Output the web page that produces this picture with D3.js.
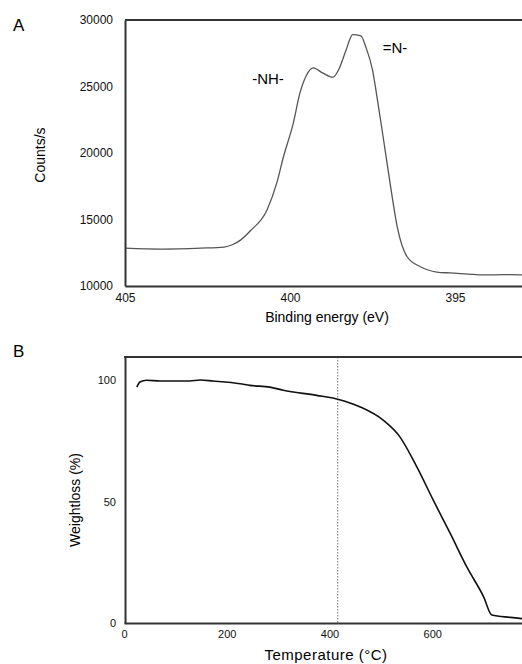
<!DOCTYPE html>
<html>
<head>
<meta charset="utf-8">
<script src="https://cdn.jsdelivr.net/npm/d3@7"></script>
<style>
  body { margin: 0; background: #fff; }
  svg { font-family: "Liberation Sans", Arial, sans-serif; display: block; }
  .tick text { fill: #111; }
</style>
</head>
<body>
<div id="chart"></div>
<script>
// Panel A: XPS N1s spectrum
const xpsEnergy = [405, 403.9, 402.7, 402.0, 401.75, 401.5, 401.2, 400.7, 400.4, 400.2, 399.9, 399.7, 399.5, 399.3, 399.0, 398.7, 398.5, 398.3, 398.1, 397.85, 397.7, 397.5, 397.35, 397.15, 396.95, 396.75, 396.45, 396.05, 395.55, 395.15, 394.6, 394.15, 393.5, 392.6];
const xpsCounts = [12850, 12780, 12850, 12930, 13100, 13450, 14150, 15700, 17750, 19700, 22250, 24500, 25850, 26400, 26000, 25700, 26400, 27750, 28900, 28800, 27950, 26250, 24000, 20750, 17450, 14450, 12200, 11450, 11050, 10980, 10900, 10830, 10850, 10820];
const xpsTicksX = [405, 400, 395];
const xpsTicksY = [10000, 15000, 20000, 25000, 30000];

// Panel B: TGA curve
const tgaTemp = [25, 31, 44, 70, 128, 148, 173, 226, 245, 284, 310, 375, 416, 460, 505, 537, 570, 602, 635, 667, 700, 716, 752, 790];
const tgaWeight = [97.2, 99.3, 100, 99.7, 99.7, 100.1, 99.7, 98.6, 97.9, 97.2, 95.9, 93.8, 92.2, 89.0, 83.5, 76.7, 64.3, 50.6, 36.9, 23.2, 10.8, 3.3, 2.3, 1.5];
const tgaTicksX = [0, 200, 400, 600, 800];
const tgaTicksY = [0, 50, 100];
const tgaMarker = 416;

const svg = d3.select("#chart").append("svg")
    .attr("width", 522)
    .attr("height", 664);

// ---- A ----
let xA = d3.scaleLinear().domain([405, 392.5]).range([125, 537.5]);
let yA = d3.scaleLinear().domain([10000, 30000]).range([286, 20]);

let gA = svg.append("g");

gA.append("path")
    .datum(xpsEnergy.map((e, i) => [e, xpsCounts[i]]))
    .attr("fill", "none")
    .attr("stroke", "#555")
    .attr("stroke-width", 1.3)
    .attr("d", d3.line().x(d => xA(d[0])).y(d => yA(d[1])).curve(d3.curveMonotoneX));

gA.append("g")
    .attr("transform", "translate(0,286)")
    .call(d3.axisBottom(xA).tickValues(xpsTicksX).tickSize(0).tickPadding(7))
    .call(g => g.select(".domain").attr("stroke", "#333").attr("stroke-width", 2))
    .call(g => g.selectAll("text").attr("font-size", 12));

gA.append("g")
    .attr("transform", "translate(125,0)")
    .call(d3.axisLeft(yA).tickValues(xpsTicksY).tickSize(0).tickPadding(12).tickFormat(d3.format("d")))
    .call(g => g.select(".domain").attr("stroke", "#333").attr("stroke-width", 2))
    .call(g => g.selectAll("text").attr("font-size", 12));

// top border
gA.append("line")
    .attr("x1", xA(405)).attr("x2", xA(392.5))
    .attr("y1", yA(30000)).attr("y2", yA(30000))
    .attr("stroke", "#333").attr("stroke-width", 2);

gA.append("text").attr("x", 268).attr("y", 84).attr("text-anchor", "middle")
    .attr("font-size", 15).text("-NH-");
gA.append("text").attr("x", 395).attr("y", 53).attr("text-anchor", "middle")
    .attr("font-size", 15).text("=N-");

gA.append("text").attr("x", 327).attr("y", 322).attr("text-anchor", "middle")
    .attr("font-size", 14).text("Binding energy (eV)");
gA.append("text").attr("transform", "translate(45,155) rotate(-90)")
    .attr("text-anchor", "middle").attr("font-size", 14).text("Counts/s");
svg.append("text").attr("x", 13).attr("y", 31).attr("font-size", 17).text("A");

// ---- B ----
let xB = d3.scaleLinear().domain([0, 800]).range([124, 535]);
let yB = d3.scaleLinear().domain([0, 109.6]).range([623, 357]);

let gB = svg.append("g");

gB.append("line")
    .attr("x1", xB(tgaMarker)).attr("x2", xB(tgaMarker))
    .attr("y1", yB(109.6)).attr("y2", yB(0))
    .attr("stroke", "#777").attr("stroke-width", 1)
    .attr("stroke-dasharray", "1.5,1.5");

gB.append("path")
    .datum(tgaTemp.map((t, i) => [t, tgaWeight[i]]))
    .attr("fill", "none")
    .attr("stroke", "#111")
    .attr("stroke-width", 1.6)
    .attr("d", d3.line().x(d => xB(d[0])).y(d => yB(d[1])).curve(d3.curveMonotoneX));

gB.append("g")
    .attr("transform", "translate(0,623)")
    .call(d3.axisBottom(xB).tickValues(tgaTicksX).tickSize(0).tickPadding(7))
    .call(g => g.select(".domain").attr("stroke", "#333").attr("stroke-width", 2))
    .call(g => g.selectAll("text").attr("font-size", 11));

gB.append("g")
    .attr("transform", "translate(125,0)")
    .call(d3.axisLeft(yB).tickValues(tgaTicksY).tickSize(0).tickPadding(9))
    .call(g => g.select(".domain").attr("stroke", "#333").attr("stroke-width", 2))
    .call(g => g.selectAll("text").attr("font-size", 11));

gB.append("line")
    .attr("x1", xB(0)).attr("x2", xB(800))
    .attr("y1", yB(109.6)).attr("y2", yB(109.6))
    .attr("stroke", "#333").attr("stroke-width", 2);

gB.append("text").attr("x", 326).attr("y", 660).attr("text-anchor", "middle")
    .attr("font-size", 15).attr("letter-spacing", 0.5).text("Temperature (°C)");
gB.append("text").attr("transform", "translate(80,500) rotate(-90)")
    .attr("text-anchor", "middle").attr("font-size", 14).text("Weightloss (%)");
svg.append("text").attr("x", 13).attr("y", 357).attr("font-size", 17).text("B");
</script>
</body>
</html>
